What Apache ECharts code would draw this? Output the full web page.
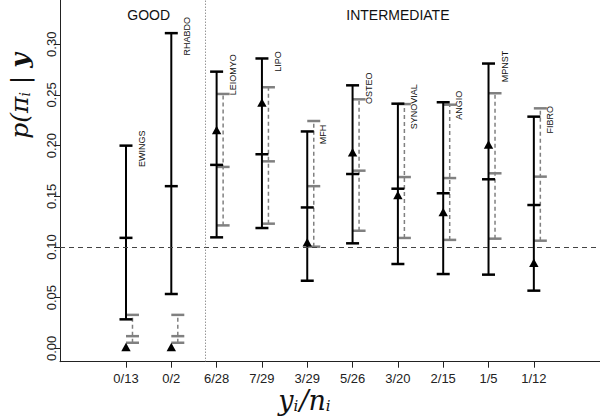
<!DOCTYPE html>
<html>
<head>
<meta charset="utf-8">
<script src="https://cdn.jsdelivr.net/npm/echarts@6/dist/echarts.min.js"></script>
<style>html,body{margin:0;padding:0;background:#fff}#c{width:600px;height:417px}</style>
</head>
<body>
<div id="c"></div>
<script>
// ---- data ----
const categories = ['0/13','0/2','6/28','7/29','3/29','5/26','3/20','2/15','1/5','1/12'];
const names = ['EWINGS','RHABDO','LEIOMYO','LIPO','MFH','OSTEO','SYNOVIAL','ANGIO','MPNST','FIBRO'];
const observed = [0, 0, 0.2143, 0.2414, 0.1034, 0.1923, 0.15, 0.1333, 0.2, 0.0833];
const blackLower = [0.0286, 0.0536, 0.1095, 0.1187, 0.0667, 0.1036, 0.0832, 0.0733, 0.0727, 0.0569];
const blackMid   = [0.109, 0.160, 0.181, 0.1915, 0.139, 0.172, 0.1575, 0.153, 0.1668, 0.1414];
const blackUpper = [0.200, 0.311, 0.273, 0.286, 0.214, 0.2595, 0.2414, 0.2428, 0.281, 0.2286];
const grayLower  = [0.0055, 0.0055, 0.1213, 0.123, 0.1003, 0.116, 0.1089, 0.107, 0.1082, 0.1062];
const grayMid    = [0.012, 0.012, 0.179, 0.1845, 0.160, 0.1753, 0.169, 0.168, 0.1727, 0.1694];
const grayUpper  = [0.033, 0.033, 0.251, 0.2576, 0.2243, 0.2457, 0.241, 0.2404, 0.2517, 0.2368];
const yTicks = [0, 0.05, 0.10, 0.15, 0.20, 0.25, 0.30];
const groupLabels = [{text: 'GOOD', x: 1.5}, {text: 'INTERMEDIATE', x: 7.0}];
const cutX = 2.75;
const refY = 0.10;

const xs = categories.map((c, i) => i + 1);
const seriesData = xs.map((x, i) => [x, blackLower[i], blackMid[i], blackUpper[i], observed[i], grayLower[i], grayMid[i], grayUpper[i]]);

const chart = echarts.init(document.getElementById('c'), null, {renderer: 'svg'});
const FONT = '"Liberation Sans", Arial, Helvetica, sans-serif';
const SERIF = '"DejaVu Serif", "Liberation Serif", serif';

function hline(cx, cy, w, color, lw) {
  return {type: 'line', shape: {x1: cx - w / 2, y1: cy, x2: cx + w / 2, y2: cy}, style: {stroke: color, lineWidth: lw}};
}

chart.setOption({
  animation: false,
  backgroundColor: '#fff',
  grid: {left: 60, right: 0, top: 0, bottom: 55.3, containLabel: false, outerBoundsMode: 'none'},
  xAxis: {
    type: 'value', min: -0.456, max: 11.46,
    splitLine: {show: false},
    axisLine: {show: true, onZero: false, lineStyle: {color: '#222', width: 1}},
    axisTick: {show: true, length: 6, customValues: xs, lineStyle: {color: '#222'}},
    axisLabel: {customValues: xs, margin: 10, fontFamily: FONT, fontSize: 13, color: '#222',
      formatter: v => categories[Math.round(v) - 1] || ''}
  },
  yAxis: {
    type: 'value', min: -0.0132, max: 0.3437,
    splitLine: {show: false},
    axisLine: {show: true, onZero: false, lineStyle: {color: '#222', width: 1}},
    axisTick: {show: true, length: 6, customValues: yTicks, lineStyle: {color: '#222'}},
    axisLabel: {customValues: yTicks, rotate: 90, margin: 2, fontFamily: FONT, fontSize: 13, color: '#222',
      formatter: v => v.toFixed(2)}
  },
  series: [
    {
      type: 'line', silent: true, data: [], symbol: 'none',
      markLine: {
        silent: true, symbol: 'none', label: {show: false},
        data: [
          {yAxis: refY, lineStyle: {color: '#444', type: [5, 4], width: 1}},
          {xAxis: cutX, lineStyle: {color: '#666', type: [1, 2], width: 1}}
        ]
      }
    },
    {
      type: 'custom',
      data: seriesData,
      clip: false,
      renderItem: function (params, api) {
        const x = api.value(0);
        const i = params.dataIndex;
        const pL = api.coord([x, api.value(1)]);
        const pM = api.coord([x, api.value(2)]);
        const pU = api.coord([x, api.value(3)]);
        const pO = api.coord([x, api.value(4)]);
        const gL = api.coord([x, api.value(5)]);
        const gM = api.coord([x, api.value(6)]);
        const gU = api.coord([x, api.value(7)]);
        const cx = pL[0];
        const gx = cx + 6.5;
        const W = 13;
        const gray = '#808080';
        const children = [
          {type: 'line', shape: {x1: gx, y1: gL[1], x2: gx, y2: gU[1]}, style: {stroke: gray, lineWidth: 1.5, lineDash: [4, 3]}},
          hline(gx, gL[1], W, gray, 2.5),
          hline(gx, gM[1], W, gray, 2.5),
          hline(gx, gU[1], W, gray, 2.5),
          {type: 'line', shape: {x1: cx, y1: pL[1], x2: cx, y2: pU[1]}, style: {stroke: '#000', lineWidth: 2}},
          hline(cx, pL[1], W, '#000', 2.5),
          hline(cx, pM[1], W, '#000', 2.5),
          hline(cx, pU[1], W, '#000', 2.5),
          {type: 'polygon', shape: {points: [[cx, pO[1] - 5.5], [cx - 4.7, pO[1] + 3], [cx + 4.7, pO[1] + 3]]}, style: {fill: '#000'}},
          {type: 'text', x: cx + 16, y: pU[1] + 3, rotation: Math.PI / 2,
            style: {text: names[i], fontFamily: FONT, fontSize: 9, fill: '#111', align: 'center', verticalAlign: 'middle'}}
        ];
        return {type: 'group', children: children};
      }
    }
  ]
});

// group labels and axis titles, positioned via the chart's own scale
function placeGraphics() {
  const els = groupLabels.map(g => {
    const p = chart.convertToPixel({gridIndex: 0}, [g.x, 0]);
    return {type: 'text', x: p[0], y: 15, style: {text: g.text, fontFamily: FONT, fontSize: 14, fill: '#111', align: 'center', verticalAlign: 'middle'}};
  });
  // x axis title
  els.push({type: 'text', x: 305, y: 400, style: {
    text: '{v|y}{s|i}{v|/}{v|n}{s|i}', align: 'center', verticalAlign: 'middle',
    rich: {
      v: {fontFamily: SERIF, fontStyle: 'italic', fontSize: 27, fill: '#111'},
      s: {fontFamily: SERIF, fontStyle: 'italic', fontSize: 15, fill: '#111', padding: [12, 1, 0, 0]}
    }
  }});
  // y axis title
  els.push({type: 'text', x: 19, y: 96, rotation: Math.PI / 2, style: {
    text: '{v|p(π}{s|i}{b||}{y|y}', align: 'center', verticalAlign: 'middle',
    rich: {
      v: {fontFamily: SERIF, fontStyle: 'italic', fontSize: 25, fill: '#111'},
      s: {fontFamily: SERIF, fontStyle: 'italic', fontSize: 14, fill: '#111', padding: [11, 0, 0, 0]},
      b: {fontFamily: SERIF, fontSize: 25, fill: '#111', padding: [0, 8, 0, 8]},
      y: {fontFamily: SERIF, fontStyle: 'italic', fontWeight: 'bold', fontSize: 25, fill: '#111'}
    }
  }});
  chart.setOption({graphic: els});
}
placeGraphics();
</script>
</body>
</html>
